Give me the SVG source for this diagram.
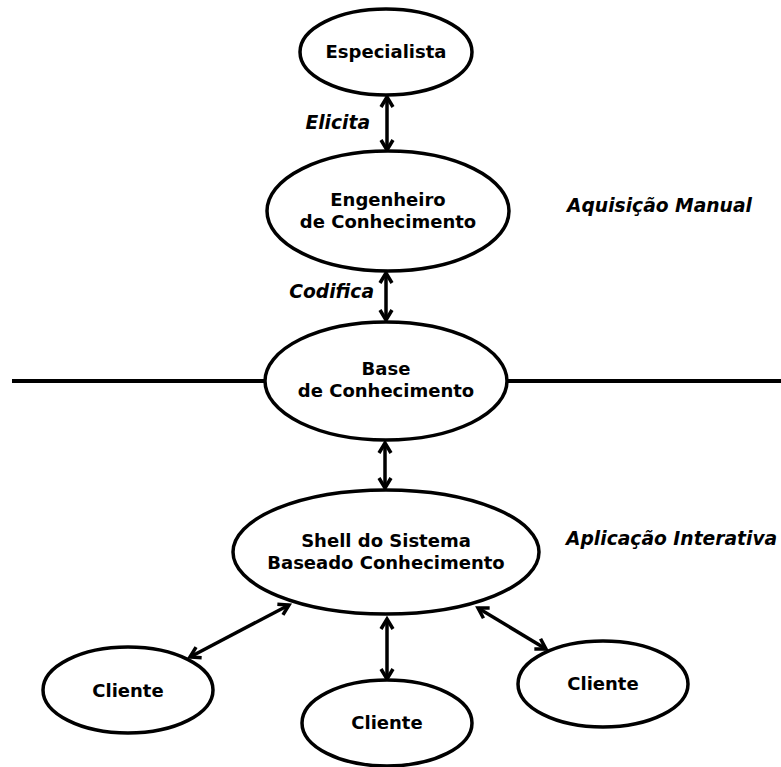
<svg xmlns="http://www.w3.org/2000/svg" width="781" height="767" viewBox="0 0 781 767">
<style>
.n ellipse{fill:#fff;stroke:#000;stroke-width:3.5}
.t{font-family:"DejaVu Sans",sans-serif;font-weight:bold;font-size:18px;text-anchor:middle;fill:#000}
.l{font-family:"DejaVu Sans",sans-serif;font-weight:bold;font-style:italic;font-size:18.7px;fill:#000}
.c line{stroke:#000;stroke-width:3.5;fill:none}
.c line.h{stroke-width:4}
</style>
<defs>
<marker id="a" markerUnits="userSpaceOnUse" markerWidth="16" markerHeight="16" refX="13" refY="8" orient="auto-start-reverse" viewBox="0 0 16 16">
<path d="M3,2 L13,8 L3,14" fill="none" stroke="#000" stroke-width="3.5"/>
</marker>
</defs>
<g class="c" id="connectors">
<line class="h" x1="12" y1="381" x2="265" y2="381"/>
<line class="h" x1="507" y1="381" x2="781" y2="381"/>
<line x1="387" y1="97" x2="387" y2="150" marker-start="url(#a)" marker-end="url(#a)"/>
<line x1="386" y1="273" x2="386" y2="320" marker-start="url(#a)" marker-end="url(#a)"/>
<line x1="385" y1="443" x2="385" y2="488" marker-start="url(#a)" marker-end="url(#a)"/>
<line x1="387" y1="619" x2="387" y2="679" marker-start="url(#a)" marker-end="url(#a)"/>
<line x1="190" y1="657" x2="289" y2="605" marker-start="url(#a)" marker-end="url(#a)"/>
<line x1="478" y1="608" x2="546" y2="649" marker-start="url(#a)" marker-end="url(#a)"/>
</g>
<g class="n" id="especialista"><ellipse cx="386" cy="52" rx="86" ry="43"/><text class="t" x="386" y="58">Especialista</text></g>
<g class="n" id="engenheiro"><ellipse cx="388" cy="211" rx="121" ry="60"/><text class="t" x="388" y="206">Engenheiro</text><text class="t" x="388" y="228">de Conhecimento</text></g>
<g class="n" id="base"><ellipse cx="386" cy="381" rx="121" ry="59"/><text class="t" x="386" y="375">Base</text><text class="t" x="386" y="397">de Conhecimento</text></g>
<g class="n" id="shell"><ellipse cx="386" cy="552" rx="153" ry="62"/><text class="t" x="386" y="547">Shell do Sistema</text><text class="t" x="386" y="569">Baseado Conhecimento</text></g>
<g class="n" id="cliente1"><ellipse cx="128" cy="690" rx="85" ry="43"/><text class="t" x="128" y="697">Cliente</text></g>
<g class="n" id="cliente2"><ellipse cx="387" cy="723" rx="85" ry="43"/><text class="t" x="387" y="729">Cliente</text></g>
<g class="n" id="cliente3"><ellipse cx="603" cy="684" rx="85" ry="43"/><text class="t" x="603" y="690">Cliente</text></g>
<g id="labels">
<text class="l" x="370" y="129" text-anchor="end">Elicita</text>
<text class="l" x="374" y="298" text-anchor="end">Codifica</text>
<text class="l" x="567" y="212">Aquisição Manual</text>
<text class="l" x="566" y="545">Aplicação Interativa</text>
</g>
</svg>
